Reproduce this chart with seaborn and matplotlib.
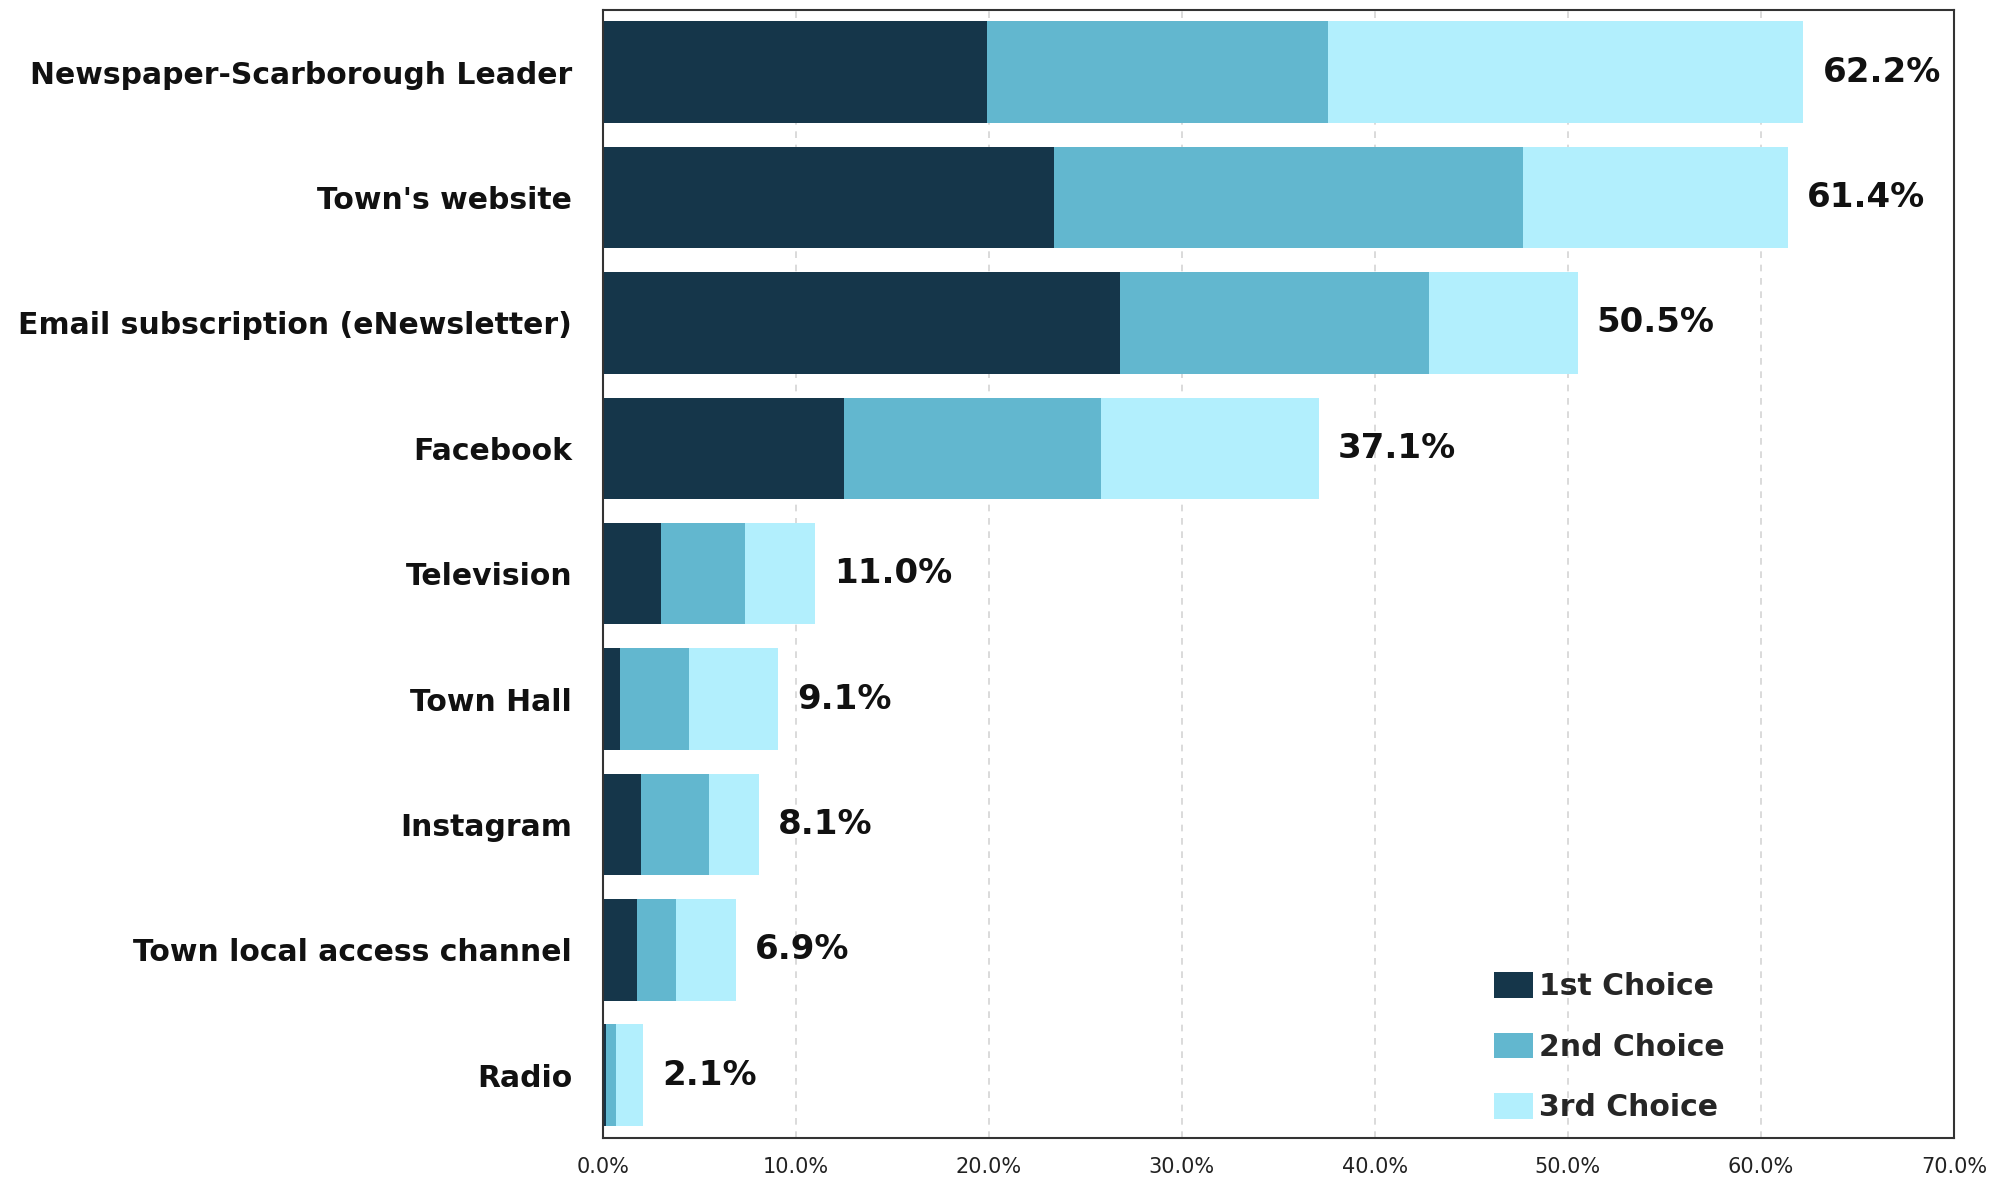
import numpy as np
import matplotlib
matplotlib.use("Agg")
import matplotlib.pyplot as plt
import seaborn as sns
from matplotlib.ticker import PercentFormatter
from matplotlib.patches import Patch

sources = ["Newspaper-Scarborough Leader", "Town's website", "Email subscription (eNewsletter)",
           "Facebook", "Television", "Town Hall", "Instagram", "Town local access channel", "Radio"]
first = [19.9, 23.4, 26.8, 12.5, 3.0, 0.9, 2.0, 1.8, 0.2]
second = [17.7, 24.3, 16.0, 13.3, 4.4, 3.6, 3.5, 2.0, 0.5]
third = [24.6, 13.7, 7.7, 11.3, 3.6, 4.6, 2.6, 3.1, 1.4]
choice_names = ["1st Choice", "2nd Choice", "3rd Choice"]
colors = ["#15364a", "#62b7cf", "#b2effd"]

sns.set_theme(style="white")
plt.rcParams["font.family"] = ["DejaVu Sans"]

first_arr = np.array(first)
upto_second = first_arr + np.array(second)
total = upto_second + np.array(third)

fig = plt.figure(figsize=(20.02, 11.89), dpi=100)
ax = fig.add_axes([0.301, 0.043, 0.675, 0.949])

# stacked look: draw the cumulative sums from the longest down
for vals, col in zip([total, upto_second, first_arr], colors[::-1]):
    sns.barplot(x=vals, y=sources, orient="h", color=col, saturation=1,
                width=0.81, linewidth=0, ax=ax, zorder=2)

for i, t in enumerate(total):
    ax.text(t + 1.0, i, f"{t:.1f}%", va="center", ha="left",
            fontsize=24.5, fontweight="bold", color="#111111")

ax.set_xlim(0, 70)
ax.set_xticks(np.arange(0, 71, 10))
ax.xaxis.set_major_formatter(PercentFormatter(decimals=1))
ax.set_xlabel("")
ax.set_ylabel("")
ax.grid(axis="x", linestyle=(0, (4, 4)), color="#d4d4d4", linewidth=1.2)
ax.set_axisbelow(True)
ax.tick_params(axis="y", length=0, pad=22, labelsize=21.5)
ax.tick_params(axis="x", length=0, pad=14, labelsize=15, labelcolor="#222222")
for lab in ax.get_yticklabels():
    lab.set_fontweight("bold")
    lab.set_color("#111111")
for sp in ax.spines.values():
    sp.set_color("#333333")
    sp.set_linewidth(1.5)

handles = [Patch(facecolor=c, edgecolor="none") for c in colors]
ax.legend(handles, choice_names, loc="lower left", bbox_to_anchor=(0.64, -0.01),
          frameon=False, prop={"size": 21.5, "weight": "bold"},
          handlelength=1.3, handleheight=0.95, handletextpad=0.2, labelspacing=1.05)

fig.savefig("out.png", dpi=100)
